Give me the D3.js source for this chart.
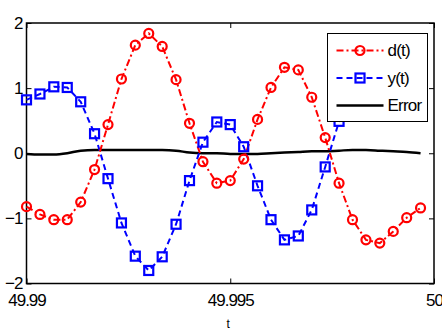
<!DOCTYPE html>
<html>
<head>
<meta charset="utf-8">
<script src="https://cdn.jsdelivr.net/npm/d3@7"></script>
<style>
body { margin: 0; background: #fff; }
svg { display: block; font-family: "Liberation Sans", Arial, sans-serif; }
.axis text { font-size: 17px; letter-spacing: -1px; fill: #000; }
.axis path, .axis line { stroke: #000; }
.legend text { font-size: 17px; letter-spacing: -0.8px; }
</style>
</head>
<body>
<svg></svg>
<script>
// sample times
var t = [49.99000, 49.99033, 49.99067, 49.99100, 49.99133, 49.99167, 49.99200, 49.99233, 49.99267, 49.99300,
    49.99333, 49.99367, 49.99400, 49.99433, 49.99467, 49.99500, 49.99533, 49.99567, 49.99600, 49.99633,
    49.99667, 49.99700, 49.99733, 49.99767, 49.99800, 49.99833, 49.99867, 49.99900, 49.99933, 49.99967];

var dVals = [-0.82, -0.94, -1.02, -1.02, -0.75, -0.25, 0.44, 1.14, 1.66, 1.84,
    1.64, 1.13, 0.46, -0.13, -0.46, -0.42, -0.09, 0.52, 1.01, 1.32,
    1.28, 0.86, 0.24, -0.46, -1.02, -1.33, -1.38, -1.20, -0.99, -0.84];

var yVals = [0.82, 0.91, 1.02, 1.01, 0.79, 0.30, -0.39, -1.07, -1.58, -1.80,
    -1.59, -1.09, -0.42, 0.17, 0.48, 0.44, 0.10, -0.50, -1.02, -1.33,
    -1.27, -0.87, -0.21, 0.49, 1.02, 1.33, 1.38, 1.20, 0.99, 0.84];

var errVals = [-0.01, -0.02, -0.02, 0.00, 0.04, 0.05, 0.05, 0.05, 0.05, 0.05,
    0.05, 0.04, 0.01, 0.00, 0.00, -0.01, -0.01, -0.01, 0.00, 0.01,
    0.02, 0.03, 0.03, 0.04, 0.05, 0.05, 0.04, 0.03, 0.02, 0.00];

var xTicks = [49.99, 49.995, 50],
    xTickLabels = ['49.99', '49.995', '50'],
    yTicks = [-2, -1, 0, 1, 2];

var labels = ['d(t)', 'y(t)', 'Error'];

var width = 442,
    height = 329,
    svg = d3.select('svg')
    .attr('width', width)
    .attr('height', height);

var x = d3.scaleLinear().domain([49.99, 50]).range([26.5, 434]),
    y = d3.scaleLinear().domain([-2, 2]).range([283.5, 23]);

// frame
svg.append('rect')
    .attr('x', x(49.99))
    .attr('y', y(2))
    .attr('width', x(50) - x(49.99))
    .attr('height', y(-2) - y(2))
    .attr('fill', 'none')
    .attr('stroke', '#000')
    .attr('stroke-width', 1.5);

var fmtX = function (d, i) { return xTickLabels[i]; };

svg.append('g')
    .attr('class', 'axis axis-x')
    .attr('transform', 'translate(0,' + y(-2) + ')')
    .call(d3.axisBottom(x).tickValues(xTicks).tickFormat(fmtX).tickSizeInner(-5).tickSizeOuter(0))
    .call(function (g) { g.select('.domain').remove(); });

svg.append('g')
    .attr('class', 'axis axis-x2')
    .attr('transform', 'translate(0,' + y(2) + ')')
    .call(d3.axisTop(x).tickValues(xTicks).tickFormat('').tickSizeInner(-5).tickSizeOuter(0))
    .call(function (g) { g.select('.domain').remove(); });

svg.append('g')
    .attr('class', 'axis axis-y')
    .attr('transform', 'translate(' + x(49.99) + ',0)')
    .call(d3.axisLeft(y).tickValues(yTicks).tickFormat(d3.format('d')).tickSizeInner(-5).tickSizeOuter(0).tickPadding(4))
    .call(function (g) { g.select('.domain').remove(); });

svg.append('g')
    .attr('class', 'axis axis-y2')
    .attr('transform', 'translate(' + x(50) + ',0)')
    .call(d3.axisRight(y).tickValues(yTicks).tickFormat('').tickSizeInner(-5).tickSizeOuter(0))
    .call(function (g) { g.select('.domain').remove(); });

// nudge labels a bit like matlab
svg.selectAll('.axis-y text').attr('dy', '0.32em');
svg.selectAll('.axis-x text').attr('dy', '0.71em').attr('y', 10);

svg.append('text')
    .attr('x', x(49.995) - 2)
    .attr('y', 328)
    .attr('text-anchor', 'middle')
    .style('font-size', '12px')
    .text('t');

var line = d3.line()
    .x(function (d, i) { return x(t[i]); })
    .y(function (d) { return y(d); });

var smooth = d3.line()
    .curve(d3.curveMonotoneX)
    .x(function (d, i) { return x(t[i]); })
    .y(function (d) { return y(d); });

var chart = svg.append('g').attr('class', 'chart');

chart.append('path')
    .attr('d', smooth(errVals))
    .attr('fill', 'none')
    .attr('stroke', '#000')
    .attr('stroke-width', 2.5);

chart.append('path')
    .attr('d', line(yVals))
    .attr('fill', 'none')
    .attr('stroke', '#0000ff')
    .attr('stroke-width', 2)
    .attr('stroke-dasharray', '6,4');

chart.append('path')
    .attr('d', line(dVals))
    .attr('fill', 'none')
    .attr('stroke', '#ff0000')
    .attr('stroke-width', 2)
    .attr('stroke-dasharray', '7,3,2,3');

chart.selectAll('.sq')
    .data(yVals)
    .enter().append('rect')
    .attr('class', 'sq')
    .attr('x', function (d, i) { return x(t[i]) - 4.5; })
    .attr('y', function (d) { return y(d) - 4.5; })
    .attr('width', 9)
    .attr('height', 9)
    .attr('fill', 'none')
    .attr('stroke', '#0000ff')
    .attr('stroke-width', 2.2);

chart.selectAll('.ci')
    .data(dVals)
    .enter().append('circle')
    .attr('class', 'ci')
    .attr('cx', function (d, i) { return x(t[i]); })
    .attr('cy', function (d) { return y(d); })
    .attr('r', 4.5)
    .attr('fill', 'none')
    .attr('stroke', '#ff0000')
    .attr('stroke-width', 2.2);

// legend
var legend = svg.append('g')
    .attr('class', 'legend')
    .attr('transform', 'translate(327.5,33.5)');

legend.append('rect')
    .attr('width', 100)
    .attr('height', 88)
    .attr('fill', '#fff')
    .attr('stroke', '#000')
    .attr('stroke-width', 1);

var colors = ['#ff0000', '#0000ff', '#000'],
    dashes = ['7,3,2,3', '6,4', null];

var li = legend.selectAll('.li')
    .data(labels)
    .enter().append('g')
    .attr('class', 'li')
    .attr('transform', function (d, i) { return 'translate(0,' + (17 + i * 27.5) + ')'; });

li.append('line')
    .attr('x1', 9)
    .attr('x2', 56)
    .attr('stroke', function (d, i) { return colors[i]; })
    .attr('stroke-width', function (d, i) { return i == 2 ? 2.5 : 2; })
    .attr('stroke-dasharray', function (d, i) { return dashes[i]; });

li.filter(function (d, i) { return i == 0; })
    .append('circle')
    .attr('cx', 32.5)
    .attr('r', 4.5)
    .attr('fill', 'none')
    .attr('stroke', '#ff0000')
    .attr('stroke-width', 2.2);

li.filter(function (d, i) { return i == 1; })
    .append('rect')
    .attr('x', 28)
    .attr('y', -4.5)
    .attr('width', 9)
    .attr('height', 9)
    .attr('fill', 'none')
    .attr('stroke', '#0000ff')
    .attr('stroke-width', 2.2);

li.append('text')
    .attr('x', 60)
    .attr('dy', '0.35em')
    .text(function (d) { return d; });
</script>
</body>
</html>
